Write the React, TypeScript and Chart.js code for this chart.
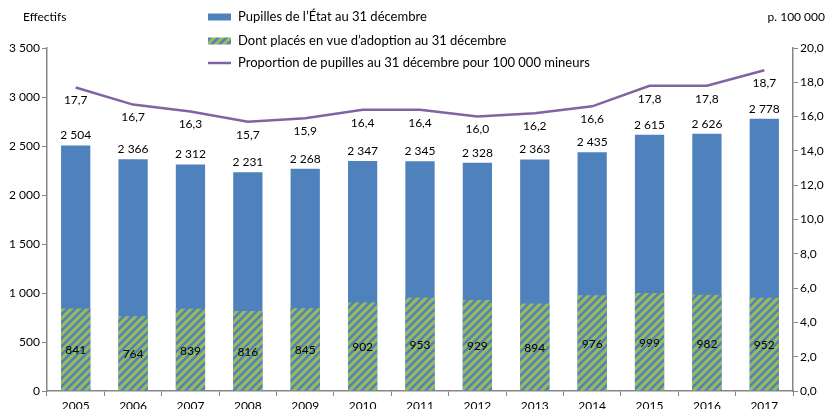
import React, { useEffect, useRef } from "react";
import { Chart, registerables } from "chart.js";

Chart.register(...registerables);

const years = ["2005", "2006", "2007", "2008", "2009", "2010", "2011", "2012", "2013", "2014", "2015", "2016", "2017"];
const pupilles = [2504, 2366, 2312, 2231, 2268, 2347, 2345, 2328, 2363, 2435, 2615, 2626, 2778];
const adoption = [841, 764, 839, 816, 845, 902, 953, 929, 894, 976, 999, 982, 952];
const proportion = [17.7, 16.7, 16.3, 15.7, 15.9, 16.4, 16.4, 16.0, 16.2, 16.6, 17.8, 17.8, 18.7];
const leftTicks = [0, 500, 1000, 1500, 2000, 2500, 3000, 3500];
const rightTicks = [0, 2, 4, 6, 8, 10, 12, 14, 16, 18, 20];
const seriesNames = [
  "Pupilles de l\u2019État au 31 décembre",
  "Dont placés en vue d\u2019adoption au 31 décembre",
  "Proportion de pupilles au 31 décembre pour 100 000 mineurs",
];
const leftTitle = "Effectifs";
const rightTitle = "p. 100 000";

const BLUE = "#4F81BD";
const GREEN = "#9BBB59";
const PURPLE = "#8064A2";
const AXIS = "#868686";
const FONT = "Lato, 'Open Sans', sans-serif";

const fmtInt = (v: number) => String(Math.round(v)).replace(/\B(?=(\d{3})+(?!\d))/g, " ");
const fmtDec = (v: number) => v.toFixed(1).replace(".", ",");

function makePattern(ctx: CanvasRenderingContext2D): CanvasPattern | string {
  const s = 8;
  const c = document.createElement("canvas");
  c.width = s;
  c.height = s;
  const p = c.getContext("2d");
  if (!p) return GREEN;
  p.fillStyle = GREEN;
  p.fillRect(0, 0, s, s);
  p.strokeStyle = BLUE;
  p.lineWidth = 2.6;
  p.beginPath();
  p.moveTo(-2, s + 2);
  p.lineTo(s + 2, -2);
  p.moveTo(-2, 2);
  p.lineTo(2, -2);
  p.moveTo(s - 2, s + 2);
  p.lineTo(s + 2, s - 2);
  p.stroke();
  return ctx.createPattern(c, "repeat") || GREEN;
}

export default function App() {
  const ref = useRef<HTMLCanvasElement>(null);

  useEffect(() => {
    document.body.style.margin = "0";
    const canvas = ref.current;
    if (!canvas) return;
    const ctx = canvas.getContext("2d")!;
    const pattern = makePattern(ctx);

    const labelsPlugin = {
      id: "labelsPlugin",
      afterDatasetsDraw(chart: any) {
        const c = chart.ctx;
        c.save();
        c.font = `12px ${FONT}`;
        c.fillStyle = "#000";
        c.textAlign = "center";
        const m0 = chart.getDatasetMeta(0);
        m0.data.forEach((el: any, i: number) => {
          c.textBaseline = "bottom";
          c.fillText(fmtInt(pupilles[i]), el.x, el.y - 4);
        });
        const m1 = chart.getDatasetMeta(1);
        m1.data.forEach((el: any, i: number) => {
          c.textBaseline = "middle";
          c.fillText(fmtInt(adoption[i]), el.x, (el.y + el.base) / 2 + 1);
        });
        const m2 = chart.getDatasetMeta(2);
        m2.data.forEach((el: any, i: number) => {
          c.textBaseline = "top";
          c.fillText(fmtDec(proportion[i]), el.x, el.y + 7);
        });
        c.restore();
      },
      afterDraw(chart: any) {
        const c = chart.ctx;
        c.save();
        c.font = `12px ${FONT}`;
        c.fillStyle = "#000";
        c.textBaseline = "middle";
        c.textAlign = "left";
        c.fillText(leftTitle, 23, 17);
        c.textAlign = "right";
        c.fillText(rightTitle, 825, 17);
        // legend
        c.font = `13px ${FONT}`;
        c.textAlign = "left";
        const lx = 208;
        const rows = [17, 41, 63];
        c.fillStyle = BLUE;
        c.fillRect(lx, rows[0] - 3.5, 23, 7);
        c.fillStyle = pattern;
        c.fillRect(lx, rows[1] - 3.5, 23, 7);
        c.strokeStyle = PURPLE;
        c.lineWidth = 2.5;
        c.beginPath();
        c.moveTo(lx, rows[2]);
        c.lineTo(lx + 23, rows[2]);
        c.stroke();
        c.fillStyle = "#000";
        seriesNames.forEach((n, i) => c.fillText(n, 238, rows[i]));
        c.restore();
      },
    };

    const chart = new Chart(ctx, {
      type: "bar",
      data: {
        labels: years,
        datasets: [
          {
            type: "bar",
            label: seriesNames[0],
            data: pupilles,
            backgroundColor: BLUE,
            yAxisID: "y",
            order: 2,
            grouped: false,
            categoryPercentage: 1,
            barPercentage: 0.51,
          } as any,
          {
            type: "bar",
            label: seriesNames[1],
            data: adoption,
            backgroundColor: pattern as any,
            yAxisID: "y",
            order: 1,
            grouped: false,
            categoryPercentage: 1,
            barPercentage: 0.51,
          } as any,
          {
            type: "line",
            label: seriesNames[2],
            data: proportion,
            borderColor: PURPLE,
            borderWidth: 2.5,
            pointRadius: 0,
            yAxisID: "y1",
            order: 0,
            tension: 0,
          } as any,
        ],
      },
      options: {
        animation: false,
        responsive: false,
        layout: { padding: { top: 48, left: 0, right: 0, bottom: 0 } },
        plugins: { legend: { display: false }, tooltip: { enabled: false } },
        scales: {
          x: {
            offset: true,
            grid: { display: true, drawOnChartArea: false, drawTicks: true, tickLength: 5, color: AXIS, offset: true },
            border: { display: true, color: AXIS, width: 1.5 },
            ticks: { color: "#000", font: { family: FONT, size: 12 }, padding: 3, maxRotation: 0 },
            afterFit: (s: any) => {
              s.height = 18;
            },
          },
          y: {
            position: "left",
            min: 0,
            max: 3500,
            afterBuildTicks: (s: any) => {
              s.ticks = leftTicks.map((v) => ({ value: v }));
            },
            grid: { display: true, drawOnChartArea: false, drawTicks: true, tickLength: 5, color: AXIS },
            border: { display: true, color: AXIS, width: 1.5 },
            ticks: {
              color: "#000",
              font: { family: FONT, size: 12 },
              padding: 2,
              callback: (v: any) => fmtInt(Number(v)),
            },
            afterFit: (s: any) => {
              s.width = 47;
            },
          },
          y1: {
            position: "right",
            min: 0,
            max: 20,
            afterBuildTicks: (s: any) => {
              s.ticks = rightTicks.map((v) => ({ value: v }));
            },
            grid: { display: true, drawOnChartArea: false, drawTicks: true, tickLength: 5, color: AXIS },
            border: { display: true, color: AXIS, width: 1.5 },
            ticks: {
              color: "#000",
              font: { family: FONT, size: 12 },
              padding: 2,
              callback: (v: any) => fmtDec(Number(v)),
            },
            afterFit: (s: any) => {
              s.width = 35;
            },
          },
        },
      },
      plugins: [labelsPlugin],
    });

    return () => chart.destroy();
  }, []);

  return <canvas ref={ref} width={828} height={409} style={{ display: "block" }} />;
}
